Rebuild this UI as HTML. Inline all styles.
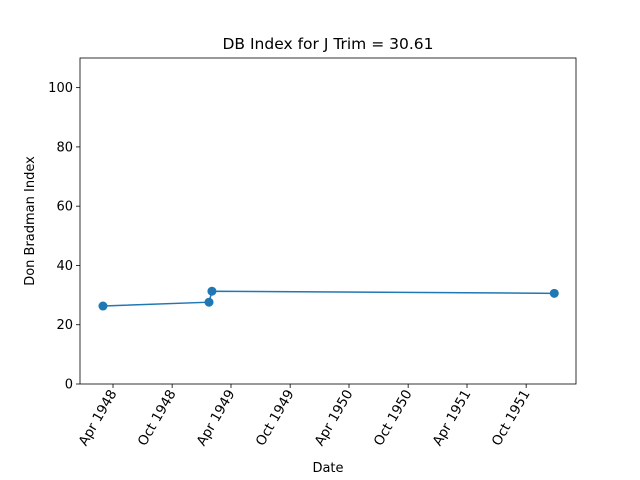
<!DOCTYPE html>
<html><head><meta charset="utf-8"><style>
body{margin:0;background:#fff;}
svg{display:block;font-family:"DejaVu Sans","Liberation Sans",sans-serif;}
</style></head><body>
<svg id="chart" width="640" height="480"></svg>
<script>
const dates = ["1948-03-01","1949-01-23","1949-02-01","1951-12-27"];
const values = [26.3, 27.6, 31.3, 30.6];
const tickDates = ["1948-04-01","1948-10-01","1949-04-01","1949-10-01","1950-04-01","1950-10-01","1951-04-01","1951-10-01"];
const tickLabels = ["Apr 1948","Oct 1948","Apr 1949","Oct 1949","Apr 1950","Oct 1950","Apr 1951","Oct 1951"];
const yTicks = [0,20,40,60,80,100];

const NS="http://www.w3.org/2000/svg";
const svg=document.getElementById('chart');
const L=80,R=576,T=58,B=384;
const day=s=>Date.parse(s)/86400000;
const d0=day("1948-04-01"), x0=113, pxPerDay=59/182.5;
const xs=s=>x0+(day(s)-d0)*pxPerDay;
const ys=v=>B-(v/110)*(B-T);
function el(tag,attrs,text){const e=document.createElementNS(NS,tag);for(const k in attrs)e.setAttribute(k,attrs[k]);if(text!==undefined)e.textContent=text;svg.appendChild(e);return e;}

let t=el('text',{x:(L+R)/2,y:49,'text-anchor':'middle','font-size':15.5},'DB Index for J Trim = 30.61');



yTicks.forEach(v=>{
 const y=ys(v);
 let l=el('line',{x1:L-4,x2:L,y1:y,y2:y,stroke:'#000','stroke-width':0.8});
 
 
 let tx=el('text',{x:L-7,y:y+4.5,'text-anchor':'end','font-size':13},String(v));
 
 
});
tickDates.forEach((d,i)=>{
 const x=xs(d);
 let l=el('line',{x1:x,x2:x,y1:B,y2:B+4,stroke:'#000','stroke-width':0.8});
 
 
 let tx=el('text',{x:0,y:0,'text-anchor':'end','font-size':13.5,transform:`translate(${x+4},${B+9}) rotate(-60)`},tickLabels[i]);
 
 
});

let pts=dates.map((d,i)=>xs(d)+','+ys(values[i])).join(' ');
let pl=el('polyline',{points:pts,fill:'none',stroke:'#1f77b4','stroke-width':1.5});


dates.forEach((d,i)=>{
 let c=el('circle',{cx:xs(d),cy:ys(values[i]),r:4.5,fill:'#1f77b4'});
 
 
});

let fr=el('rect',{x:L,y:T,width:R-L,height:B-T,fill:'none',stroke:'#000','stroke-width':0.8});



let xl=el('text',{x:(L+R)/2,y:472,'text-anchor':'middle','font-size':13},'Date');


let yl=el('text',{x:0,y:0,'text-anchor':'middle','font-size':13,transform:`translate(34,${(T+B)/2}) rotate(-90)`},'Don Bradman Index');


</script>
</body></html>
